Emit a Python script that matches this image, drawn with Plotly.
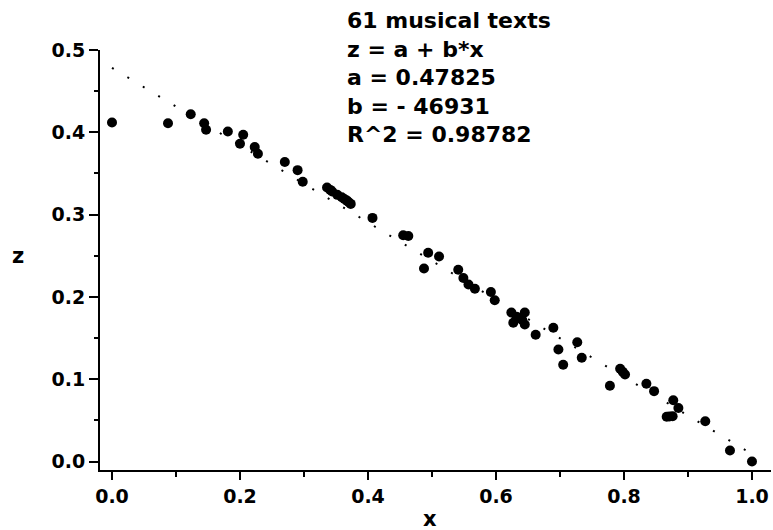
import plotly.graph_objects as go

# Data
x_vals = [0.000, 0.0875, 0.123, 0.144, 0.147, 0.181, 0.205, 0.200, 0.223, 0.228,
          0.270, 0.290, 0.298,
          0.336, 0.341, 0.344, 0.352, 0.359, 0.363, 0.367, 0.370, 0.373,
          0.407, 0.455, 0.463, 0.494, 0.511, 0.4875,
          0.541, 0.549, 0.557, 0.567, 0.592, 0.598,
          0.624, 0.645, 0.627, 0.645, 0.635, 0.632, 0.641,
          0.662, 0.6896, 0.727, 0.6975, 0.734, 0.705,
          0.794, 0.798, 0.8016, 0.778, 0.835, 0.847, 0.877, 0.885,
          0.8667, 0.871, 0.876, 0.927, 0.9656, 1.000]
z_vals = [0.412, 0.411, 0.422, 0.411, 0.403, 0.401, 0.397, 0.386, 0.382, 0.374,
          0.364, 0.354, 0.340,
          0.333, 0.330, 0.328, 0.324, 0.321, 0.319, 0.317, 0.315, 0.313,
          0.296, 0.275, 0.274, 0.2536, 0.249, 0.2345,
          0.233, 0.223, 0.215, 0.210, 0.206, 0.196,
          0.181, 0.181, 0.1685, 0.1665, 0.1745, 0.176, 0.172,
          0.154, 0.1625, 0.145, 0.136, 0.126, 0.1175,
          0.1126, 0.109, 0.1057, 0.092, 0.0944, 0.0855, 0.0745, 0.065,
          0.0543, 0.0546, 0.055, 0.049, 0.0134, 0.000]

fit_a = 0.47825
fit_b = -0.46931
fit_x = [0.0, 1.0]
fit_z = [fit_a + fit_b * v for v in fit_x]

info_lines = ["61 musical texts", "z = a + b*x", "a = 0.47825",
              "b = - 46931", "R^2 = 0.98782"]
x_ticks = [0.0, 0.2, 0.4, 0.6, 0.8, 1.0]
x_tick_text = ["0.0", "0.2", "0.4", "0.6", "0.8", "1.0"]
y_ticks = [0.0, 0.1, 0.2, 0.3, 0.4, 0.5]
y_tick_text = ["0.0", "0.1", "0.2", "0.3", "0.4", "0.5"]

FONT = "DejaVu Sans"

fig = go.Figure()
fig.add_trace(go.Scatter(
    x=fit_x, y=fit_z, mode="lines",
    line=dict(color="black", width=2, dash="2px,16px"),
    hoverinfo="skip", showlegend=False))
fig.add_trace(go.Scatter(
    x=x_vals, y=z_vals, mode="markers",
    marker=dict(color="black", size=10, line=dict(width=0)),
    showlegend=False))

L, R, T, B = 100, 2, 50, 60
W, H = 773, 530
pw, ph = W - L - R, H - T - B


def px2paper(px, py):
    return (px - L) / pw, (H - B - py) / ph


axis_common = dict(
    showline=True, linecolor="black", linewidth=2,
    ticks="outside", tickcolor="black", tickwidth=2,
    showgrid=False, zeroline=False,
    tickfont=dict(family=FONT, size=19, color="black", weight="bold"),
)

fig.update_xaxes(
    range=[-0.01875, 1.0297], tickvals=x_ticks, ticktext=x_tick_text,
    ticklen=8,
    minor=dict(dtick=0.1, tick0=0, ticks="outside", ticklen=5,
               tickwidth=2, tickcolor="black", showgrid=False),
    **axis_common)
fig.update_yaxes(
    range=[0.5 - ph / 823.0, 0.5], tickvals=y_ticks, ticktext=y_tick_text,
    ticklen=9,
    minor=dict(dtick=0.05, tick0=0, ticks="outside", ticklen=4,
               tickwidth=2, tickcolor="black", showgrid=False),
    **axis_common)

ax, ay = px2paper(345, 77.5)
zx, zy = px2paper(17.7, 256)
xx, xy = px2paper(430, 519)
fig.add_annotation(
    text="<br>".join(info_lines), xref="paper", yref="paper",
    x=ax, y=ay, xanchor="left", yanchor="middle", align="left",
    showarrow=False,
    font=dict(family=FONT, size=22, color="black", weight="bold"))
fig.add_annotation(
    text="z", xref="paper", yref="paper", x=zx, y=zy,
    xanchor="center", yanchor="middle", showarrow=False,
    font=dict(family=FONT, size=21, color="black", weight="bold"))
fig.add_annotation(
    text="x", xref="paper", yref="paper", x=xx, y=xy,
    xanchor="center", yanchor="middle", showarrow=False,
    font=dict(family=FONT, size=21, color="black", weight="bold"))

fig.update_layout(
    width=W, height=H,
    margin=dict(l=L, r=R, t=T, b=B, pad=0),
    paper_bgcolor="white", plot_bgcolor="white",
)

fig.write_html(
    "out.html",
    config={"displayModeBar": False},
    post_script="document.body.style.margin='0';"
                "document.body.style.overflow='hidden';")
